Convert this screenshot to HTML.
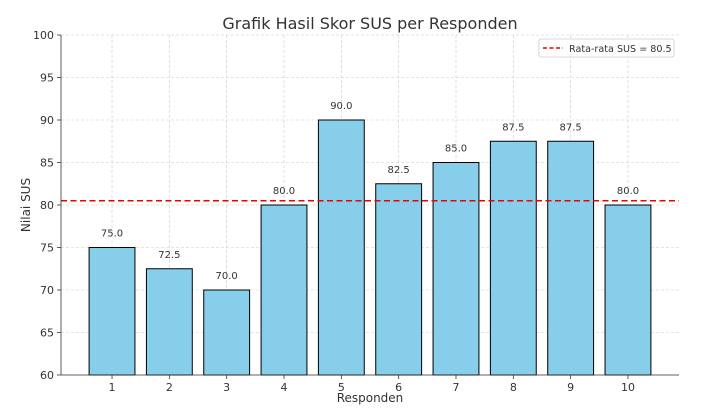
<!DOCTYPE html>
<html><head><meta charset="utf-8"><style>
body{margin:0;background:#fff;}
svg text{font-family:"DejaVu Sans","Liberation Sans",sans-serif;fill:#333;}
</style></head><body>
<svg id="chart" width="718" height="415" xmlns="http://www.w3.org/2000/svg">
<text x="370" y="29" font-size="16" text-anchor="middle">Grafik Hasil Skor SUS per Responden</text>
<text x="370" y="402" font-size="12" text-anchor="middle">Responden</text>
<text x="0" y="0" font-size="12" text-anchor="middle" transform="translate(30,205) rotate(-90)">Nilai SUS</text>
<g id="grid"></g><g id="bars"></g><g id="axes"></g>
<g>
<rect x="539" y="39" width="135" height="18" rx="2" fill="#fff" stroke="#ccc" stroke-width="0.8"/>
<line x1="543" y1="48" x2="563" y2="48" stroke="#e00" stroke-width="1.5" stroke-dasharray="4,2.5"/>
<text x="569" y="52" font-size="9.6">Rata-rata SUS = 80.5</text>
</g>
</svg>
<script>
const categories=["1","2","3","4","5","6","7","8","9","10"];
const scores=[75.0,72.5,70.0,80.0,90.0,82.5,85.0,87.5,87.5,80.0];
const meanScore=80.5;
const yTicks=[60,65,70,75,80,85,90,95,100];
const NS="http://www.w3.org/2000/svg";
const L=61,R=679,T=35,B=375,xmin=0.11,xmax=10.89,ymin=60,ymax=100;
const xs=v=>L+(v-xmin)/(xmax-xmin)*(R-L);
const ys=v=>B-(v-ymin)/(ymax-ymin)*(B-T);
function mk(tag,attrs,parent){const e=document.createElementNS(NS,tag);for(const k in attrs)e.setAttribute(k,attrs[k]);document.getElementById(parent).appendChild(e);return e;}
yTicks.forEach(t=>{
 const g=mk('line',{x1:L,x2:R,y1:ys(t),y2:ys(t),stroke:'#ccc','stroke-width':0.6,'stroke-dasharray':'3,2'},'grid');
 
 
 mk('line',{x1:L-4,x2:L,y1:ys(t),y2:ys(t),stroke:'#333','stroke-width':0.8},'axes');
 const tx=mk('text',{x:L-7,y:ys(t)+4,'font-size':11,'text-anchor':'end'},'axes');tx.textContent=t;
 
 
});
categories.forEach((c,i)=>{
 const x=xs(i+1);
 const g=mk('line',{x1:x,x2:x,y1:T,y2:B,stroke:'#ccc','stroke-width':0.6,'stroke-dasharray':'3,2'},'grid');
 
 
 const w=xs(1.4)-xs(0.6);
 const b=mk('rect',{x:x-w/2,y:ys(scores[i]),width:w,height:B-ys(scores[i]),fill:'#87ceeb',stroke:'#000','stroke-width':1},'bars');
 
 
 const v=mk('text',{x:x,y:ys(scores[i])-11,'font-size':10,'text-anchor':'middle'},'bars');v.textContent=scores[i].toFixed(1);
 
 
 mk('line',{x1:x,x2:x,y1:B,y2:B+4,stroke:'#333','stroke-width':0.8},'axes');
 const tl=mk('text',{x:x,y:B+16,'font-size':11,'text-anchor':'middle'},'axes');tl.textContent=c;
 
 
});
const ml=mk('line',{x1:L,x2:R,y1:ys(meanScore),y2:ys(meanScore),stroke:'#e00','stroke-width':1.6,'stroke-dasharray':'6,3.5'},'bars');


const yl=mk('line',{x1:L,x2:L,y1:T,y2:B,stroke:'#333','stroke-width':0.8},'axes');


const xl=mk('line',{x1:L,x2:R,y1:B,y2:B,stroke:'#333','stroke-width':0.8},'axes');


</script>
</body></html>
